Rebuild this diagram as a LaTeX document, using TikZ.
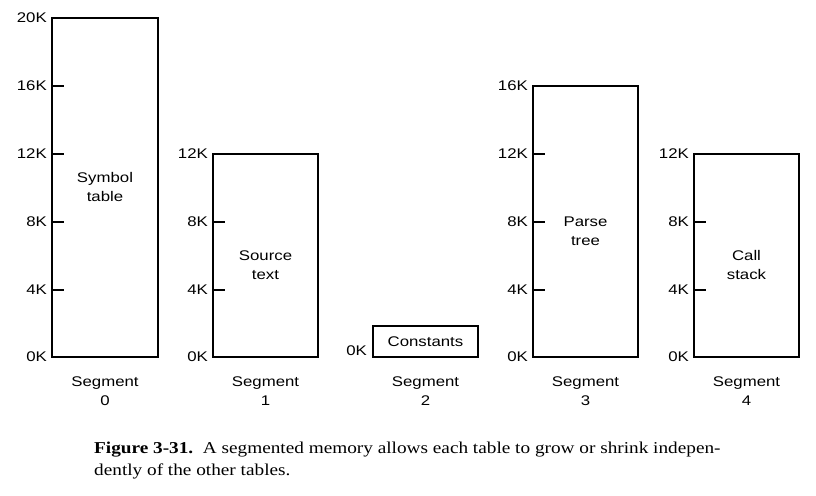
\documentclass[tikz,border=0pt]{standalone}
\usepackage{fontspec}
\setmainfont[FakeStretch=1.2]{Liberation Sans}
\newfontfamily\capfont[FakeStretch=1.16]{Liberation Serif}
\begin{document}
\begin{tikzpicture}[x=1pt,y=-1pt,
  seg/.style={draw,line width=1.3pt},
  lab/.style={font=\fontsize{14}{19}\selectfont,align=center,inner sep=0pt},
  ax/.style={font=\fontsize{14}{19}\selectfont,anchor=east,inner sep=0pt},
  tick/.style={line width=1.2pt}]
\useasboundingbox (0,0) rectangle (816,495);
% Segment 0
\draw[seg] (52,18) rectangle (158,357);
\foreach \yy/\t in {18/20K,86/16K,154/12K,222/8K,290/4K,357/0K}
  \node[ax] (a0\t) at (47,\yy) {\t};
\foreach \yy in {86,154,222,290} \draw[tick] (52,\yy) -- (64,\yy);
\node[lab] (t0) at (105,187) {Symbol\\table};
\node[lab] (s0) at (105,391) {Segment\\0};
% Segment 1
\draw[seg] (213,154) rectangle (318,357);
\foreach \yy/\t in {154/12K,222/8K,290/4K,357/0K}
  \node[ax] (a1\t) at (208,\yy) {\t};
\foreach \yy in {222,290} \draw[tick] (213,\yy) -- (225,\yy);
\node[lab] (t1) at (265.5,265) {Source\\text};
\node[lab] (s1) at (265.5,391) {Segment\\1};
% Segment 2
\draw[seg] (373,326) rectangle (478,357);
\node[ax] (a2) at (367,351) {0K};
\node[lab] (t2) at (425.5,342) {Constants};
\node[lab] (s2) at (425.5,391) {Segment\\2};
% Segment 3
\draw[seg] (533,86) rectangle (638,357);
\foreach \yy/\t in {86/16K,154/12K,222/8K,290/4K,357/0K}
  \node[ax] (a3\t) at (528,\yy) {\t};
\foreach \yy in {154,222,290} \draw[tick] (533,\yy) -- (545,\yy);
\node[lab] (t3) at (585.5,231) {Parse\\tree};
\node[lab] (s3) at (585.5,391) {Segment\\3};
% Segment 4
\draw[seg] (694,154) rectangle (799,357);
\foreach \yy/\t in {154/12K,222/8K,290/4K,357/0K}
  \node[ax] (a4\t) at (689,\yy) {\t};
\foreach \yy in {222,290} \draw[tick] (694,\yy) -- (706,\yy);
\node[lab] (t4) at (746.5,265) {Call\\stack};
\node[lab] (s4) at (746.5,391) {Segment\\4};
% Caption
\node[anchor=base west,inner sep=0pt,font=\capfont\fontsize{16.6}{22}\selectfont] (cap1) at (94,453)
  {\textbf{Figure 3-31.}\ \ A segmented memory allows each table to grow or shrink indepen-};
\node[anchor=base west,inner sep=0pt,font=\capfont\fontsize{16.6}{22}\selectfont] (cap2) at (94,475)
  {dently of the other tables.};
\end{tikzpicture}
\end{document}
